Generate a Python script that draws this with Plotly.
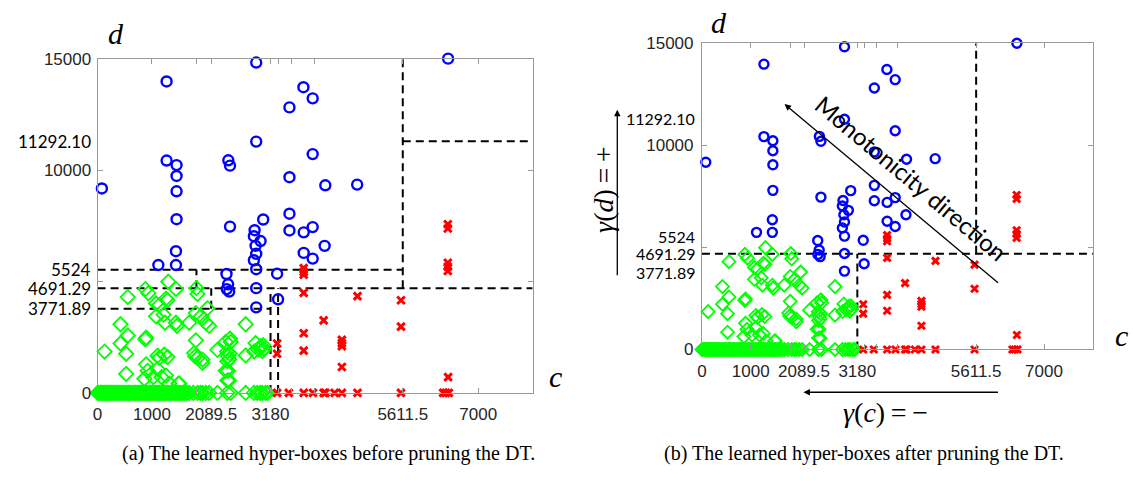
import plotly.graph_objects as go

# ---------------- data ----------------
blue_x = [2917, 1269, 3785, 3955, 3528, 6445, 2917, 1269, 1452, 2404, 2435, 3955, 1452, 3528, 79,
          1452, 4187, 4773, 1452, 3528, 3045, 2435, 2887, 3528, 3790, 3955, 2874, 2997, 2905, 2917,
          2874, 2917, 3790, 3955, 4175, 3301, 2917, 3319, 2917, 1441, 1117, 1441, 2370, 2400, 2375, 2420]
blue_y = [14827, 13977, 13719, 13218, 12813, 15000, 11277, 10427, 10224, 10440, 10199, 10716, 9737, 9681, 9176,
          9047, 9318, 9348, 7796, 8041, 7782, 7463, 7300, 7290, 7205, 7440, 7032, 6816, 6600, 6242,
          5953, 5552, 6285, 6027, 6600, 5349, 4702, 4202, 3840, 6359, 5738, 5738, 5336, 4875, 4659, 4550]

red_x = [3790, 3790, 3790, 3790, 4779, 5579, 3301, 3301, 3790, 4157, 3790, 4492, 4492, 4492, 4492,
         5579, 6445, 6440, 6440, 6440, 6440, 6440,
         3301, 3516, 3790, 3961, 4157, 4187, 4358, 4492, 4779, 5579, 6354, 6403, 6458]
red_y = [5600, 5430, 5300, 4487, 4344, 4159, 2217, 1756, 2675, 3253, 1898, 2380, 2230, 2100, 1165,
         2977, 707, 7570, 7380, 5840, 5660, 5470,
         0, 0, 0, 0, 0, 0, 0, 0, 0, 0, 0, 0, 0]

green_x = [1300, 879, 934, 555, 1075, 1135, 1441, 1258, 1287, 1818, 1837, 2020, 1807, 1899, 2051,
           1990, 1685, 1441, 1459, 1214, 1240, 1075, 2723, 2435, 2448, 1807, 879, 892, 555, 421,
           421, 128, 525, 1104, 1135, 1227, 1287, 1795, 1929, 2203, 2380, 2400, 2420, 2430, 2723,
           2905, 2950, 3000, 3060, 2880, 3030, 525, 892, 921, 860, 1104, 1258, 1502, 2398, 2417,
           1025, 1177, 1318, 1489, 1837, 1929, 1776, 2356, 2386, 2356, 2386, 2990, 3045,
           0, 25, 48, 70, 95, 118, 140, 166, 190, 215, 240, 262, 290, 318, 345, 372, 400, 430, 455,
           483, 510, 540, 566, 590, 620, 650, 675, 700, 730, 760, 785, 812, 840, 870, 895, 925, 950,
           980, 1005, 1035, 1060, 1090, 1115, 1145, 1170, 1200, 1228, 1255, 1285, 1310, 1340, 1365,
           1395, 1420, 1450, 1480, 1505, 1535, 1565, 1600, 1640, 1685, 1760, 1837, 1890, 1929, 1990,
           2051, 2203, 2386, 2448, 2723, 2875, 2936, 2990, 3027, 3089, 3130]
green_y = [4990, 4659, 4474, 4301, 4012, 3943, 4659, 4228, 4159, 4700, 4443, 3796, 3581, 3438, 3007,
           3149, 3149, 3149, 3007, 3512, 3149, 3438, 3080, 2433, 2286, 2360, 2400, 2476, 2576, 3080,
           2217, 1855, 1756, 1670, 1570, 1713, 1613, 1639, 1497, 1928, 1855, 1640, 1500, 1760, 1683,
           2230, 1950, 2100, 1980, 1860, 1880, 850, 1281, 992, 634, 1066, 777, 418, 992, 561,
           707, 707, 418, 418, 1570, 1355, 1786, 2286, 1424, 992, 561, 2000, 2140,
           0, 0, 0, 0, 0, 0, 0, 0, 0, 0, 0, 0, 0, 0, 0, 0, 0, 0, 0,
           0, 0, 0, 0, 0, 0, 0, 0, 0, 0, 0, 0, 0, 0, 0, 0, 0, 0, 0,
           0, 0, 0, 0, 0, 0, 0, 0, 0, 0, 0, 0, 0, 0, 0, 0, 0, 0, 0,
           0, 0, 0, 0, 0, 0, 0, 0, 0, 0, 0, 0, 0, 0, 0, 0, 0, 0, 0,
           0, 0, 0, 0, 0, 0, 0, 0, 0, 0, 0, 0]

# hyper-box boundaries (x0, y0, x1, y1) in data units
boxes_before = [(5611.5, 4691.29, 5611.5, 15000), (5611.5, 11292.10, 8000, 11292.10),
                (0, 5524, 5611.5, 5524), (0, 4691.29, 8000, 4691.29), (0, 3771.89, 3180, 3771.89),
                (1818, 4691.29, 1818, 5524), (2089.5, 3771.89, 2089.5, 4691.29),
                (3180, 0, 3180, 4691.29), (3319, 0, 3319, 4691.29)]
boxes_after = [(0, 4691.29, 8000, 4691.29), (3180, 0, 3180, 4691.29), (5611.5, 4691.29, 5611.5, 15000)]

x_tickvals = [0, 1000, 1818, 2089.5, 3180, 3319, 3565, 3992, 5611.5, 7000]
x_ticktext = ["0", "1000", "", "2089.5", "3180", "", "", "", "5611.5", "7000"]
y_tickvals = [0, 5000, 10000, 15000]
y_ticktext = ["0", "", "10000", "15000"]
y_split_vals = [11292.10, 5524, 4691.29, 3771.89]
y_split_text = ["11292.10", "5524", "4691.29", "3771.89"]

W, H = 1133, 481
def px(x): return x / W
def py(y): return 1 - y / H

fig = go.Figure()

panels = [
    dict(xa="x", ya="y", boxes=boxes_before, cs=10, rs=7.5, gs=11),
    dict(xa="x2", ya="y2", boxes=boxes_after, cs=9, rs=7, gs=10),
]
for p in panels:
    for (x0, y0, x1, y1) in p["boxes"]:
        fig.add_trace(go.Scatter(x=[x0, x1], y=[y0, y1], mode="lines", xaxis=p["xa"], yaxis=p["ya"],
                                 line=dict(color="black", width=2, dash="8px,5px"),
                                 showlegend=False, hoverinfo="skip", cliponaxis=False))
    fig.add_trace(go.Scatter(x=green_x, y=green_y, mode="markers", xaxis=p["xa"], yaxis=p["ya"],
                             marker=dict(symbol="diamond-open", size=p["gs"], color="#00ff00",
                                         line=dict(width=1.8, color="#00ff00")),
                             showlegend=False, cliponaxis=False))
    fig.add_trace(go.Scatter(x=red_x, y=red_y, mode="markers", xaxis=p["xa"], yaxis=p["ya"],
                             marker=dict(symbol="x-thin-open", size=p["rs"], color="#ff0000",
                                         line=dict(width=3, color="#ff0000")),
                             showlegend=False, cliponaxis=False))
    fig.add_trace(go.Scatter(x=blue_x, y=blue_y, mode="markers", xaxis=p["xa"], yaxis=p["ya"],
                             marker=dict(symbol="circle-open", size=p["cs"], color="#0000ff",
                                         line=dict(width=2.4, color="#0000ff")),
                             showlegend=False, cliponaxis=False))

tickfont = dict(family="Liberation Sans, Arial", size=17, color="#262626")
axcommon = dict(showgrid=False, zeroline=False, showline=True, linecolor="#9a9a9a", linewidth=1,
                mirror="ticks", ticks="inside", ticklen=5, tickcolor="#9a9a9a", tickfont=tickfont)

fig.update_layout(
    width=W, height=H, margin=dict(l=0, r=0, t=0, b=0),
    paper_bgcolor="white", plot_bgcolor="white",
    xaxis=dict(domain=[px(93), px(530)], range=[0, 8000], anchor="y",
               tickvals=x_tickvals, ticktext=x_ticktext, ticklabelstandoff=6, **axcommon),
    yaxis=dict(domain=[py(399.7), py(51.7)], range=[0, 15000], anchor="x",
               tickvals=y_tickvals, ticktext=y_ticktext, ticklabelstandoff=2, **axcommon),
    xaxis2=dict(domain=[px(700), px(1092.7)], range=[0, 8000], anchor="y2",
                tickvals=x_tickvals, ticktext=x_ticktext, ticklabelstandoff=6, **axcommon),
    yaxis2=dict(domain=[py(354.5), py(35.7)], range=[0, 15000], anchor="x2",
                tickvals=y_tickvals, ticktext=y_ticktext, ticklabelstandoff=4, **axcommon),
)

ann = []
# custom split labels on y axes
for yref, xref, fs, shift in [("y", "x domain", 17, -5), ("y2", "x2 domain", 16, -5)]:
    for v, t in zip(y_split_vals, y_split_text):
        ann.append(dict(x=0, y=v, xref=xref, yref=yref, text=t, showarrow=False,
                        xanchor="right", yanchor="middle", xshift=shift,
                        font=dict(family="Lato", size=fs, color="black")))

serif = "Liberation Serif, DejaVu Serif"
def txt(x, y, t, size, family=serif, angle=0):
    return dict(x=px(x), y=py(y), xref="paper", yref="paper", text=t, showarrow=False,
                xanchor="center", yanchor="middle", textangle=angle,
                font=dict(family=family, size=size, color="black"))

def arrow(hx, hy, tx, ty):
    return dict(x=px(hx), y=py(hy), xref="paper", yref="paper", ax=tx - hx, ay=ty - hy,
                axref="pixel", ayref="pixel", text="", showarrow=True, arrowhead=2,
                arrowsize=1, arrowwidth=1.3, arrowcolor="black")

for (x, y, t) in [(111, 25, "d"), (717, 14, "d"), (553, 383, "c"), (1121, 340, "c")]:
    ann.append(txt(x, y, "<i>" + t + "</i>", 30))

# gamma labels and arrows on the right panel
ann.append(txt(601, 188, "<i>γ</i>(<i>d</i>)\u2009=\u2009+", 28, angle=-90))
ann.append(arrow(615, 105, 615, 272))
ann.append(txt(884, 420, "<i>γ</i>(<i>c</i>)\u2009=\u2009−", 28))
ann.append(arrow(802, 399, 998, 399))
ann.append(arrow(783, 99, 998, 279))
ann.append(txt(911, 176, "Monotonicity direction", 24, family="Lato", angle=40))

# captions
ann.append(txt(325, 463, "(a) The learned hyper-boxes before pruning the DT.", 20))
ann.append(txt(863, 463, "(b) The learned hyper-boxes after pruning the DT.", 20))

fig.update_layout(annotations=ann)
fig.write_html("out.html")
